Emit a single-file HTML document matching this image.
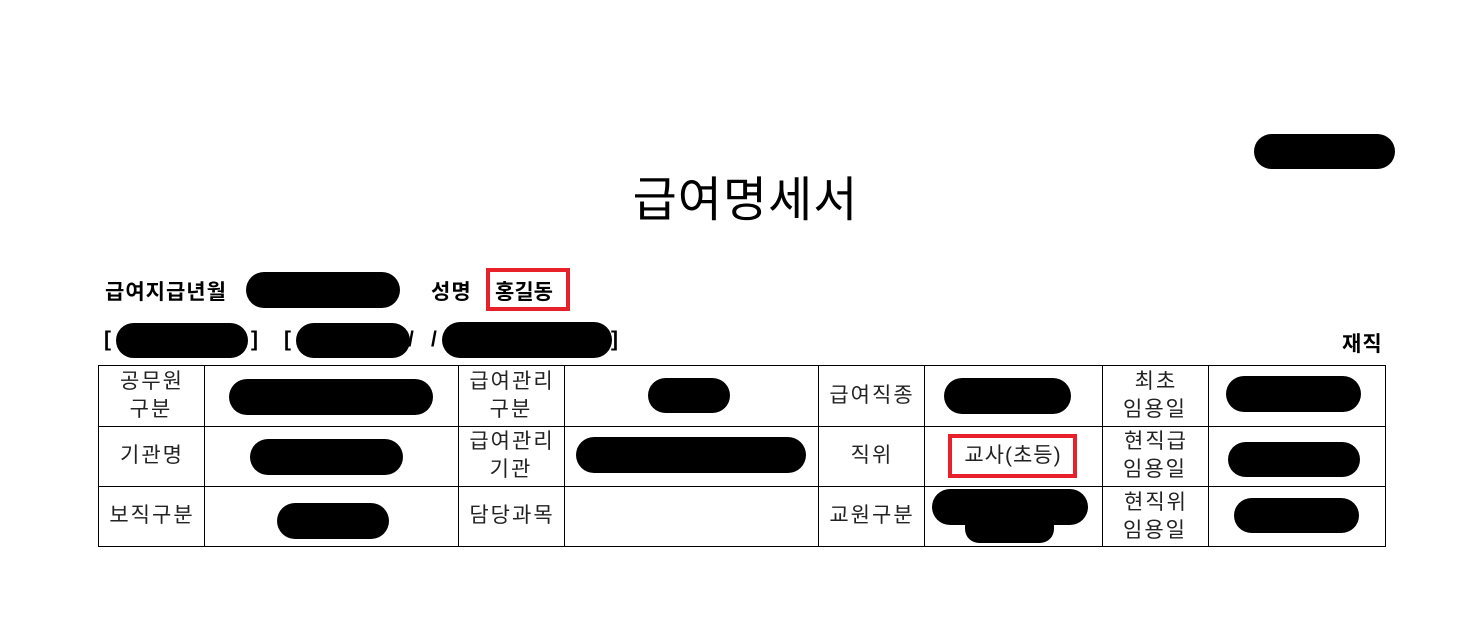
<!DOCTYPE html>
<html><head><meta charset="utf-8"><style>
body{margin:0;width:1472px;height:635px;background:#fff;position:relative;overflow:hidden;font-family:"Liberation Sans","Noto Sans CJK KR","NanumGothic",sans-serif;color:#111}
.a{position:absolute}
.b{position:absolute;background:#000;border-radius:18px}
.t{position:absolute;font-size:21px;line-height:28px;text-align:center;color:#222;letter-spacing:2px;text-indent:2px}
.bold{font-weight:bold;font-size:21px;color:#000;letter-spacing:1px}
.v{position:absolute;background:#000;width:1px}
.h{position:absolute;background:#000;height:1px}
</style></head><body>
<div class="b" style="left:1254px;top:134px;width:141px;height:35px"></div>
<div class="a" style="left:540px;top:172px;width:410px;text-align:center;font-size:48px;line-height:58px;color:#000;letter-spacing:1px;text-indent:1px">급여명세서</div>

<div class="a bold" style="left:105px;top:276px">급여지급년월</div>
<div class="b" style="left:246px;top:272px;width:154px;height:36px"></div>
<div class="a bold" style="left:431px;top:276px">성명</div>
<div class="a" style="left:486px;top:268px;width:76px;height:35px;border:4px solid #e8202a"></div>
<div class="a bold" style="left:495px;top:276px;letter-spacing:0">홍길동</div>

<div class="a bold" style="left:104px;top:328px">[</div>
<div class="b" style="left:116px;top:323px;width:132px;height:35px"></div>
<div class="a bold" style="left:251px;top:328px">]</div>
<div class="a bold" style="left:284px;top:328px">[</div>
<div class="b" style="left:296px;top:323px;width:114px;height:35px"></div>
<div class="a bold" style="left:408px;top:328px">/</div>
<div class="a bold" style="left:431px;top:328px">/</div>
<div class="b" style="left:442px;top:322px;width:170px;height:36px"></div>
<div class="a bold" style="left:611px;top:328px">]</div>
<div class="a bold" style="left:1342px;top:328px">재직</div>

<div class="h" style="left:98px;top:365px;width:1288px"></div>
<div class="h" style="left:98px;top:426px;width:1288px"></div>
<div class="h" style="left:98px;top:486px;width:1288px"></div>
<div class="h" style="left:98px;top:546px;width:1288px"></div>
<div class="v" style="left:98px;top:365px;height:182px"></div>
<div class="v" style="left:204px;top:365px;height:182px"></div>
<div class="v" style="left:458px;top:365px;height:182px"></div>
<div class="v" style="left:564px;top:365px;height:182px"></div>
<div class="v" style="left:818px;top:365px;height:182px"></div>
<div class="v" style="left:924px;top:365px;height:182px"></div>
<div class="v" style="left:1102px;top:365px;height:182px"></div>
<div class="v" style="left:1208px;top:365px;height:182px"></div>
<div class="v" style="left:1385px;top:365px;height:182px"></div>

<div class="t" style="left:98px;top:368px;width:106px">공무원<br>구분</div>
<div class="t" style="left:98px;top:442px;width:106px">기관명</div>
<div class="t" style="left:98px;top:502px;width:106px">보직구분</div>
<div class="t" style="left:458px;top:368px;width:106px">급여관리<br>구분</div>
<div class="t" style="left:458px;top:428px;width:106px">급여관리<br>기관</div>
<div class="t" style="left:458px;top:502px;width:106px">담당과목</div>
<div class="t" style="left:818px;top:382px;width:106px">급여직종</div>
<div class="t" style="left:818px;top:442px;width:106px">직위</div>
<div class="t" style="left:818px;top:502px;width:106px">교원구분</div>
<div class="t" style="left:1102px;top:368px;width:106px">최초<br>임용일</div>
<div class="t" style="left:1102px;top:428px;width:106px">현직급<br>임용일</div>
<div class="t" style="left:1102px;top:489px;width:106px">현직위<br>임용일</div>

<div class="b" style="left:229px;top:379px;width:204px;height:36px"></div>
<div class="b" style="left:648px;top:378px;width:82px;height:35px"></div>
<div class="b" style="left:944px;top:378px;width:127px;height:36px"></div>
<div class="b" style="left:1226px;top:376px;width:135px;height:36px"></div>
<div class="b" style="left:250px;top:439px;width:153px;height:36px"></div>
<div class="b" style="left:576px;top:437px;width:230px;height:36px"></div>
<div class="a" style="left:948px;top:434px;width:121px;height:36px;border:4px solid #e8202a"></div>
<div class="t" style="left:948px;top:442px;width:129px;letter-spacing:1px;text-indent:1px">교사(초등)</div>
<div class="b" style="left:1228px;top:442px;width:132px;height:35px"></div>
<div class="b" style="left:277px;top:503px;width:112px;height:36px"></div>
<div class="b" style="left:932px;top:489px;width:156px;height:36px"></div>
<div class="b" style="left:965px;top:512px;width:89px;height:31px;border-radius:14px"></div>
<div class="b" style="left:1234px;top:498px;width:125px;height:35px"></div>
</body></html>
